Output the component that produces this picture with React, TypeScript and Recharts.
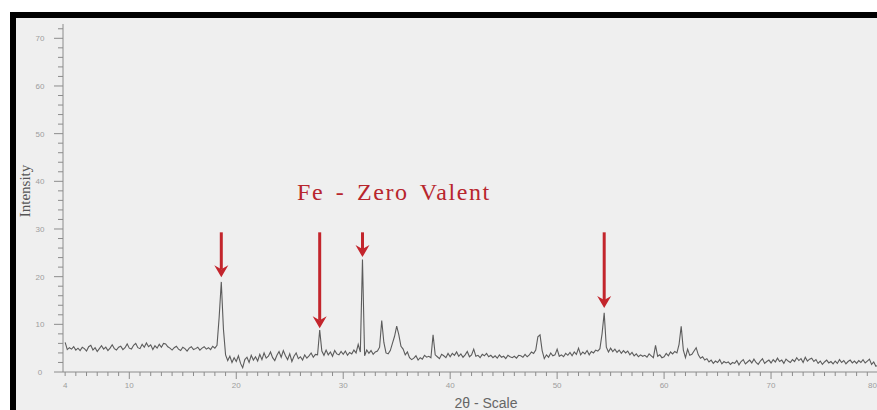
import React from "react";
import { LineChart, Line, XAxis, YAxis, ReferenceLine } from "recharts";

// 2θ grid of the scan
const angleStart = 4;
const angleStep = 0.2;

// intensity, one row per 2 degrees (4.0 .. 80.0)
const intensity = [
  6.2, 4.7, 5.1, 4.8, 5.3, 4.6, 5.0, 4.5, 5.2, 4.9, // 4
  4.4, 5.3, 5.6, 4.6, 5.1, 4.3, 4.9, 5.5, 4.8, 5.2, // 6
  4.5, 5.0, 5.7, 4.9, 4.6, 5.2, 5.4, 4.7, 5.1, 5.9, // 8
  5.0, 4.8, 5.6, 6.0, 5.1, 4.9, 5.8, 5.2, 6.1, 5.3, // 10
  5.7, 4.7, 5.5, 5.0, 5.8, 5.2, 6.0, 5.9, 5.3, 5.0, // 12
  4.6, 5.1, 5.4, 4.8, 4.5, 5.2, 4.9, 4.4, 5.0, 5.3, // 14
  4.7, 4.9, 5.2, 4.6, 5.0, 5.3, 4.8, 5.1, 4.7, 5.4, // 16
  5.0, 5.6, 11.5, 18.9, 9.0, 3.6, 2.4, 3.3, 2.0, 3.0, // 18
  2.2, 3.4, 1.8, 0.9, 2.6, 3.1, 2.0, 3.5, 2.5, 3.2, // 20
  2.3, 3.7, 2.6, 4.0, 2.9, 3.3, 4.2, 3.0, 2.4, 3.5, // 22
  4.3, 3.1, 4.5, 3.4, 2.6, 3.8, 2.2, 3.3, 4.0, 2.8, // 24
  3.2, 2.5, 3.6, 2.9, 3.4, 4.0, 3.1, 3.7, 3.6, 8.8, // 26
  4.4, 3.5, 4.6, 3.6, 4.2, 3.3, 4.5, 3.8, 3.6, 4.3, // 28
  3.7, 4.4, 3.5, 4.1, 3.8, 4.6, 4.0, 5.8, 4.2, 23.6, // 30
  3.4, 4.6, 3.9, 4.5, 3.7, 4.2, 4.4, 5.2, 10.8, 6.2, // 32
  4.0, 3.8, 4.5, 6.0, 7.5, 9.6, 7.8, 5.4, 4.8, 3.6, // 34
  4.2, 3.0, 2.6, 2.9, 3.4, 2.5, 3.0, 2.7, 3.5, 3.1, // 36
  3.3, 3.0, 7.8, 3.6, 3.2, 2.8, 3.7, 3.4, 3.0, 3.9, // 38
  3.2, 3.9, 3.5, 4.2, 3.3, 3.8, 3.1, 3.6, 4.3, 3.2, // 40
  3.6, 4.8, 3.3, 3.5, 3.0, 3.7, 3.4, 3.9, 3.2, 3.5, // 42
  3.0, 3.4, 2.9, 3.6, 3.1, 3.3, 2.8, 3.5, 3.2, 3.0, // 44
  3.3, 2.9, 3.5, 3.4, 3.1, 3.7, 3.2, 3.6, 4.2, 3.9, // 46
  4.6, 7.4, 7.8, 4.5, 2.8, 3.6, 3.1, 4.0, 3.4, 3.6, // 48
  4.8, 3.3, 3.6, 3.2, 3.9, 3.5, 4.1, 3.4, 4.2, 3.7, // 50
  5.0, 3.6, 4.2, 3.8, 4.5, 3.6, 4.3, 4.0, 4.6, 4.4, // 52
  4.9, 8.0, 12.4, 5.2, 4.2, 5.0, 4.3, 4.8, 4.1, 4.6, // 54
  3.9, 4.5, 4.0, 4.4, 3.6, 4.1, 3.4, 3.8, 3.2, 3.6, // 56
  3.3, 3.5, 3.1, 3.8, 3.4, 3.0, 5.6, 3.3, 3.6, 3.0, // 58
  3.2, 3.9, 3.4, 4.2, 3.8, 4.3, 4.0, 5.8, 9.6, 4.6, // 60
  3.0, 4.8, 3.5, 3.7, 4.4, 5.1, 3.6, 2.9, 3.2, 2.5, // 62
  2.8, 2.1, 2.5, 1.8, 2.3, 2.0, 2.6, 1.7, 2.2, 1.9, // 64
  2.1, 1.6, 2.0, 1.8, 2.4, 1.5, 2.2, 2.6, 1.7, 2.1, // 66
  2.5, 1.9, 2.7, 2.0, 1.6, 2.3, 2.8, 1.8, 2.2, 2.5, // 68
  1.9, 2.6, 2.1, 2.9, 2.2, 2.5, 1.8, 2.7, 2.3, 2.0, // 70
  2.6, 2.2, 3.0, 2.4, 2.8, 2.0, 3.1, 2.3, 2.7, 2.9, // 72
  2.2, 2.6, 1.8, 2.3, 1.6, 2.1, 2.5, 1.9, 2.2, 1.7, // 74
  2.3, 1.8, 2.6, 2.0, 2.4, 1.7, 2.2, 2.5, 1.9, 2.3, // 76
  1.8, 2.4, 2.0, 2.6, 1.9, 2.3, 2.7, 1.6, 2.1, 1.2, // 78
  1.4, // 80
];

const xLabels = [4, 10, 20, 30, 40, 50, 60, 70, 80];
const yLabels = [0, 10, 20, 30, 40, 50, 60, 70];

// red arrows marking the Fe peaks: angle, top of shaft, tip
const arrowAngles = [18.6, 27.8, 31.8, 54.4];
const arrowTops = [29.3, 29.3, 29.3, 29.3];
const arrowTips = [19.9, 9.2, 24.1, 13.4];

const data = intensity.map((v, i) => ({
  angle: Math.round((angleStart + i * angleStep) * 10) / 10,
  intensity: v,
}));

const xTicks = Array.from({ length: 77 }, (_, i) => 4 + i);
const yTicks = Array.from({ length: 37 }, (_, i) => i * 2);

const axisGrey = "#8c8c8c";
const labelGrey = "#9d9d9d";
const arrowRed = "#c3252c";

const XTick = (props: any) => {
  const { x, y, payload } = props;
  const v = payload.value;
  const big = v % 10 === 0;
  const last = v === 80;
  return (
    <g>
      <line x1={x} x2={x} y1={y} y2={y + (big ? 7 : 4)} stroke={axisGrey} strokeWidth={1} />
      {xLabels.includes(v) && (
        <text
          x={last ? x - 1 : x}
          y={y + 16}
          textAnchor={last ? "end" : "middle"}
          fontSize={8}
          fill={labelGrey}
          fontFamily="Liberation Sans, Arial, sans-serif"
        >
          {v}
        </text>
      )}
    </g>
  );
};

const YTick = (props: any) => {
  const { x, y, payload } = props;
  const v = payload.value;
  const big = v % 10 === 0;
  return (
    <g>
      <line x1={x - (big ? 9 : 5)} x2={x} y1={y} y2={y} stroke={axisGrey} strokeWidth={1} />
      {yLabels.includes(v) && (
        <text x={x - 23} y={y + 3} textAnchor="middle" fontSize={8} fill={labelGrey} fontFamily="Liberation Sans, Arial, sans-serif">
          {v}
        </text>
      )}
    </g>
  );
};

const Arrow = (props: any) => {
  const { x1, y1, x2, y2 } = props;
  if (x1 == null || y2 == null) return null;
  return (
    <g>
      <line x1={x1} y1={y1} x2={x2} y2={y2 - 8} stroke={arrowRed} strokeWidth={3} />
      <polygon
        points={`${x2 - 7},${y2 - 12} ${x2},${y2 - 8} ${x2 + 7},${y2 - 12} ${x2},${y2}`}
        fill={arrowRed}
      />
    </g>
  );
};

export default function App() {
  return (
    <div style={{ position: "fixed", left: 0, top: 0, width: 877, height: 410, background: "#fff", overflow: "hidden" }}>
      <div
        style={{
          position: "absolute",
          left: 10,
          top: 12,
          right: 0,
          bottom: 0,
          background: "#efefef",
          borderLeft: "6px solid #000",
          borderTop: "6px solid #000",
        }}
      />
      <div style={{ position: "absolute", left: 0, top: 0 }}>
        <LineChart width={880} height={410} data={data} margin={{ top: 24, right: 2, bottom: 0, left: 0 }}>
          <XAxis
            dataKey="angle"
            type="number"
            domain={[3.8, 80]}
            ticks={xTicks}
            interval={0}
            tick={<XTick />}
            tickLine={false}
            tickSize={0}
            tickMargin={0}
            height={38}
            stroke={axisGrey}
          />
          <YAxis
            type="number"
            domain={[0, 73]}
            ticks={yTicks}
            interval={0}
            tick={<YTick />}
            tickLine={false}
            tickSize={0}
            tickMargin={0}
            width={63}
            stroke={axisGrey}
          />
          <Line
            type="linear"
            dataKey="intensity"
            stroke="#5c5c5c"
            strokeWidth={1.1}
            dot={false}
            isAnimationActive={false}
          />
          {arrowAngles.map((a, i) => (
            <ReferenceLine
              key={a}
              segment={[
                { x: a, y: arrowTops[i] },
                { x: a, y: arrowTips[i] },
              ]}
              shape={<Arrow />}
            />
          ))}
        </LineChart>
      </div>
      <div
        style={{
          position: "absolute",
          left: 297,
          top: 180,
          fontFamily: "Liberation Serif, Times New Roman, serif",
          fontSize: 24,
          lineHeight: "24px",
          letterSpacing: 1.6,
          wordSpacing: 4,
          color: "#b8262d",
          whiteSpace: "nowrap",
        }}
      >
        Fe - Zero Valent
      </div>
      <div
        style={{
          position: "absolute",
          left: 25,
          top: 191,
          transform: "translate(-50%, -50%) rotate(-90deg)",
          fontFamily: "Liberation Serif, Times New Roman, serif",
          fontSize: 15,
          lineHeight: "15px",
          color: "#555",
          whiteSpace: "nowrap",
        }}
      >
        Intensity
      </div>
      <div
        style={{
          position: "absolute",
          left: 486,
          top: 403,
          transform: "translate(-50%, -50%)",
          fontFamily: "Liberation Sans, Arial, sans-serif",
          fontSize: 14,
          lineHeight: "14px",
          color: "#666",
          whiteSpace: "nowrap",
        }}
      >
        2θ - Scale
      </div>
    </div>
  );
}
